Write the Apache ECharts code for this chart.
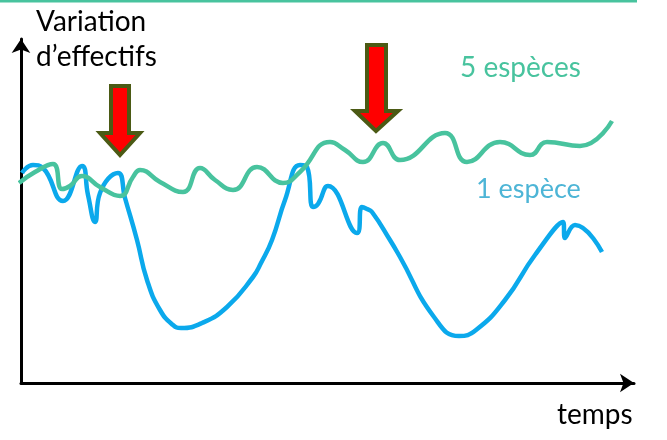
<!DOCTYPE html>
<html><head><meta charset="utf-8">
<script src="https://cdn.jsdelivr.net/npm/echarts@6/dist/echarts.min.js"></script>
<style>html,body{margin:0;padding:0;background:#fff}#c{width:667px;height:440px}</style>
</head><body><div id="c"></div>
<script>
// temps (x) and variation d'effectifs (y)
const tempsCinq = [19,35,53,62,70,82,100,120,133,140,160,183,200,215,233,257,283,300,330,345,363,383,400,445,467,500,530,547,580,612];
const effectifsCinq = [200,211,219,194,197,207,196,187,206,213,201,191,215,203,193,216,200,211,241,233,221,240,223,250,221,241,228,241,237,262];
const tempsUne = [22,33,43,63,82,88,95,100,118,125,137,147,160,173,181,202,227,253,261,272,285,300,307,313,318,328,357,362,367,372,390,400,434,459,476,505,535,563,565,575,602];
const effectifsUne = [210,218,215,182,217,188,161,190,210,185,143,103,73,58,55,60,76,106,120,143,183,218,216,176,179,197,150,176,174,171,143,126,66,47,53,83,128,161,145,158,131];
const labelCinq = '5 espèces';
const labelUne = '1 espèce';
const yTitle = ['Variation', 'd\u2019effectifs'];
const xTitle = 'temps';

const teal = '#48C39E', blue = '#0BA9EC';
const zip = (a, b) => a.map((v, i) => [v, b[i]]);
const font = 'Lato, "Open Sans", sans-serif';

const chart = echarts.init(document.getElementById('c'), null, {renderer: 'canvas'});
chart.setOption({
  animation: false,
  grid: {left: 21, right: 33, top: 39, bottom: 57},
  xAxis: {type: 'value', min: 21, max: 634,
    axisLine: {lineStyle: {color: '#000', width: 3}, symbol: ['none', 'arrow'], symbolSize: [14, 14]},
    axisTick: {show: false}, axisLabel: {show: false}, splitLine: {show: false}},
  yAxis: {type: 'value', min: 0, max: 344,
    axisLine: {show: true, lineStyle: {color: '#000', width: 3}, symbol: ['none', 'arrow'], symbolSize: [14, 14]},
    axisTick: {show: false}, axisLabel: {show: false}, splitLine: {show: false}},
  series: [
    {name: labelUne, type: 'line', data: zip(tempsUne, effectifsUne), smooth: 0.5,
     showSymbol: false, lineStyle: {color: blue, width: 4.5}, z: 2},
    {name: labelCinq, type: 'line', data: zip(tempsCinq, effectifsCinq), smooth: 0.5,
     showSymbol: false, lineStyle: {color: teal, width: 4.5}, z: 3}
  ],
  graphic: [
    {type: 'rect', shape: {x: 0, y: 0, width: 637, height: 2.5}, style: {fill: teal}},
    {type: 'text', x: 36, y: 22, style: {text: yTitle[0], font: '28px ' + font, fill: '#000', textVerticalAlign: 'middle'}},
    {type: 'text', x: 36, y: 57, style: {text: yTitle[1], font: '28px ' + font, fill: '#000', textVerticalAlign: 'middle'}},
    {type: 'text', x: 460, y: 68, style: {text: labelCinq, font: '28px ' + font, fill: teal, textVerticalAlign: 'middle'}},
    {type: 'text', x: 476, y: 189, style: {text: labelUne, font: '27px ' + font, fill: '#4DB5D6', textVerticalAlign: 'middle'}},
    {type: 'text', x: 557, y: 415, style: {text: xTitle, font: '28px ' + font, fill: '#000', textVerticalAlign: 'middle'}},
    {type: 'polygon', z: 10, shape: {points: [[111,86],[129,86],[129,133],[140,133],[120,155],[100,133],[111,133]]},
     style: {fill: '#FF0000', stroke: '#4B5A14', lineWidth: 4, lineJoin: 'miter'}},
    {type: 'polygon', z: 10, shape: {points: [[367,45],[386,45],[386,111],[398,111],[376,131],[355,111],[367,111]]},
     style: {fill: '#FF0000', stroke: '#4B5A14', lineWidth: 4, lineJoin: 'miter'}}
  ]
});
</script></body></html>
